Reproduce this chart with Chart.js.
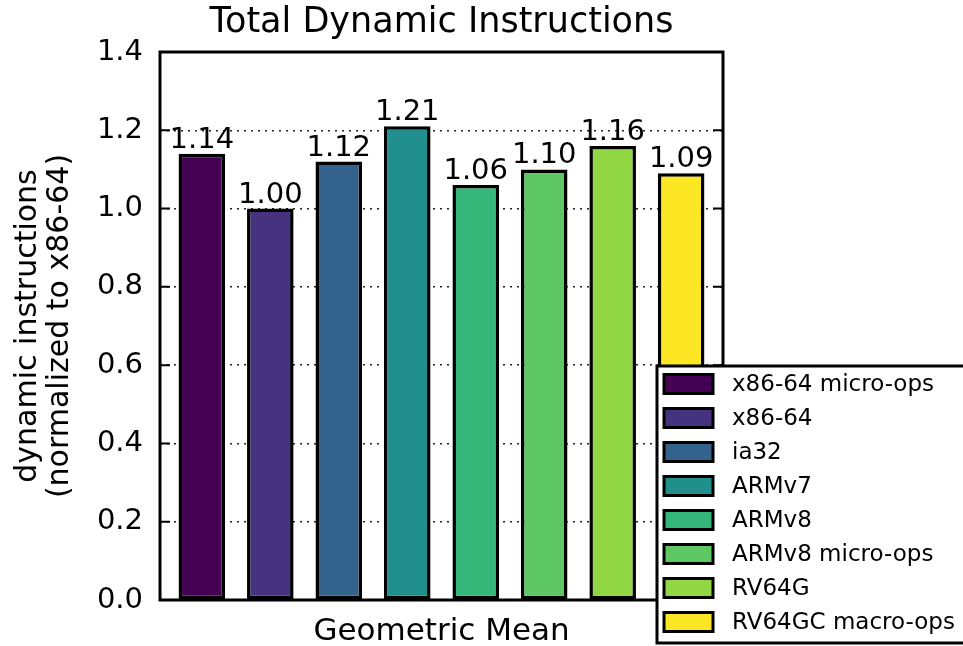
<!DOCTYPE html>
<html>
<head>
<meta charset="utf-8">
<script src="https://cdn.jsdelivr.net/npm/chart.js@4.4.0/dist/chart.umd.min.js"></script>
<style>
  body { margin: 0; background: #fff; }
  #wrap { width: 963px; height: 646px; }
</style>
</head>
<body>
<div id="wrap"><canvas id="dynInstChart" width="963" height="646"></canvas></div>
<script>
// data
const categories = ['Geometric Mean'];
const seriesNames = ['x86-64 micro-ops', 'x86-64', 'ia32', 'ARMv7', 'ARMv8', 'ARMv8 micro-ops', 'RV64G', 'RV64GC macro-ops'];
const values = [1.14, 1.00, 1.12, 1.21, 1.06, 1.10, 1.16, 1.09];
const yTicks = [0.0, 0.2, 0.4, 0.6, 0.8, 1.0, 1.2, 1.4];

// viridis-like colours, one per series
const colors = ['#440154', '#46337f', '#33638d', '#218f8b', '#35b779', '#5dc863', '#90d743', '#fde725'];

const FONT = "'DejaVu Sans', 'Liberation Sans', sans-serif";

// frame, inward ticks and bar value labels
const framePlugin = {
    id: 'frame',
    afterDatasetsDraw(chart) {
        const ctx = chart.ctx;
        const a = chart.chartArea;
        const y = chart.scales.y;
        ctx.save();
        // value labels on top of the bars
        ctx.fillStyle = '#000';
        ctx.font = '29px ' + FONT;
        ctx.textAlign = 'center';
        ctx.textBaseline = 'alphabetic';
        chart.data.datasets.forEach((ds, i) => {
            const bar = chart.getDatasetMeta(i).data[0];
            ctx.fillText(ds.data[0].toFixed(2), bar.x, bar.y - 6);
        });
        // inward tick marks on both sides
        ctx.strokeStyle = '#000';
        ctx.lineWidth = 2;
        y.ticks.forEach(t => {
            const py = y.getPixelForValue(t.value);
            ctx.beginPath();
            ctx.moveTo(a.left, py); ctx.lineTo(a.left + 10, py);
            ctx.moveTo(a.right - 10, py); ctx.lineTo(a.right, py);
            ctx.stroke();
        });
        // axes frame
        ctx.lineWidth = 3;
        ctx.strokeRect(a.left, a.top, a.right - a.left, a.bottom - a.top);
        ctx.restore();
    },
    afterDraw(chart) {
        const ctx = chart.ctx;
        const a = chart.chartArea;
        ctx.save();
        // title centred over the plot
        ctx.fillStyle = '#000';
        ctx.font = '35px ' + FONT;
        ctx.textAlign = 'center';
        ctx.textBaseline = 'alphabetic';
        ctx.fillText('Total Dynamic Instructions', (a.left + a.right) / 2, 32);

        // legend box, overlapping the lower right corner
        const lx = 657, ly = 366, lw = 330, lh = 277;
        ctx.fillStyle = '#fff';
        ctx.fillRect(lx, ly, lw, lh);
        ctx.strokeStyle = '#000';
        ctx.lineWidth = 3;
        ctx.strokeRect(lx, ly, lw, lh);
        ctx.font = '23px ' + FONT;
        ctx.textAlign = 'left';
        ctx.textBaseline = 'middle';
        chart.data.datasets.forEach((ds, i) => {
            const cy = ly + 18 + i * 34;
            ctx.fillStyle = ds.backgroundColor;
            ctx.fillRect(664, cy - 9.5, 49, 19);
            ctx.strokeRect(664, cy - 9.5, 49, 19);
            ctx.fillStyle = '#000';
            ctx.fillText(ds.label, 732, cy + 1);
        });
        ctx.restore();
    }
};

const ctx = document.getElementById('dynInstChart').getContext('2d');
new Chart(ctx, {
    type: 'bar',
    data: {
        labels: categories,
        datasets: seriesNames.map((name, i) => ({
            label: name,
            data: [values[i]],
            backgroundColor: colors[i],
            borderColor: '#000',
            borderWidth: 3.5,
            borderSkipped: false,
            categoryPercentage: 0.973,
            barPercentage: 0.68
        }))
    },
    options: {
        responsive: false,
        animation: false,
        layout: { padding: { top: 52, right: 240, left: 0, bottom: 0 } },
        plugins: {
            legend: { display: false },
            title: { display: false },
            tooltip: { enabled: false }
        },
        scales: {
            x: {
                grid: { display: false },
                border: { display: false },
                ticks: { color: '#000', font: { family: FONT, size: 31 }, padding: 5 },
                afterFit: s => { s.height = 46; }
            },
            y: {
                min: 0,
                max: 1.4,
                afterBuildTicks: s => { s.ticks = yTicks.map(v => ({ value: v })); },
                grid: { color: '#222', lineWidth: 1.5, drawTicks: false },
                border: { display: false, dash: [2, 5] },
                ticks: {
                    color: '#000',
                    font: { family: FONT, size: 29 },
                    padding: 17,
                    callback: v => Number(v).toFixed(1)
                },
                title: {
                    display: true,
                    text: ['dynamic instructions', '(normalized to x86-64)'],
                    color: '#000',
                    font: { family: FONT, size: 30, lineHeight: 1.07 },
                    padding: { top: 12, bottom: 0 }
                },
                afterFit: s => { s.width = 160; }
            }
        }
    },
    plugins: [framePlugin]
});
</script>
</body>
</html>
